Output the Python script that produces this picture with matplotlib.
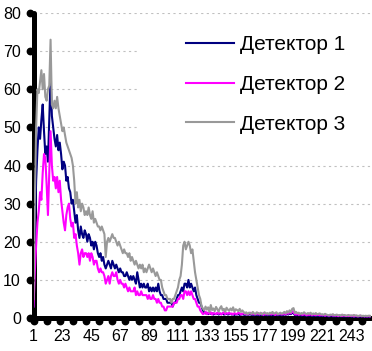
import matplotlib
matplotlib.use("Agg")
import matplotlib.pyplot as plt
from matplotlib.patches import Rectangle
from matplotlib.transforms import ScaledTranslation, blended_transform_factory

# channel readings of three detectors (channels 1..258)
det1_head = [
    3, 22, 36, 44, 50, 47, 52, 56, 49, 43,
    45, 41, 52, 63, 53, 50, 47, 45, 48, 44,
    46, 43, 39, 41, 40, 36, 37, 34, 33, 30,
    31, 28, 25, 27, 23, 21, 24, 22, 21, 23,
    22, 20, 22, 21, 19, 20, 18, 20, 19, 17,
    16, 17, 15, 16, 14, 13, 14, 15, 14, 13,
    15, 14, 13, 14, 13, 12, 13, 12, 12, 11,
    11, 12, 11, 10, 11, 10, 11, 10, 9, 12,
    10, 8, 9, 8, 9, 8, 8, 9, 7, 8,
    7, 8, 7, 8, 7, 9, 7, 6, 6, 5,
    5, 5, 4, 4, 4, 4, 3, 4, 4, 5,
    6, 6, 7, 8, 7, 9, 9, 8, 10, 8,
    9, 8, 7, 8, 6, 5, 4, 4, 3, 2,
]
det1_tail = [
    1.5, 1.2, 1.4, 1.0, 1.3, 1.1, 1.2, 0.9, 1.1, 1.0,
    1.2, 0.9, 1.1, 1.0, 1.2, 0.9, 1.0, 1.1, 0.9, 1.0,
    1.1, 0.9, 1.0, 0.8, 1.0, 0.9, 1.1, 0.8, 0.9, 1.0,
    0.9, 0.8, 1.0, 0.8, 0.9, 1.0, 0.8, 0.9, 0.7, 0.9,
    0.8, 0.9, 0.7, 0.8, 0.9, 0.7, 0.8, 0.9, 0.7, 0.8,
    0.9, 0.7, 0.8, 0.7, 0.8, 0.9, 0.7, 0.8, 0.9, 0.7,
    0.8, 1.0, 0.8, 1.1, 0.9, 1.2, 1.0, 1.4, 1.2, 0.8,
    0.7, 0.8, 0.7, 0.8, 0.6, 0.7, 0.8, 0.6, 0.7, 0.6,
    0.7, 0.6, 0.7, 0.5, 0.6, 0.7, 0.5, 0.6, 0.5, 0.6,
    0.5, 0.6, 0.5, 0.6, 0.5, 0.4, 0.5, 0.6, 0.4, 0.5,
    0.4, 0.5, 0.4, 0.5, 0.4, 0.5, 0.4, 0.4, 0.5, 0.4,
    0.4, 0.5, 0.3, 0.4, 0.4, 0.3, 0.4, 0.4, 0.3, 0.4,
    0.3, 0.4, 0.3, 0.4, 0.3, 0.4, 0.3, 0.4,
]

det2_head = [
    3, 12, 19, 25, 28, 33, 31, 38, 43, 42,
    35, 27, 38, 49, 40, 36, 37, 34, 37, 33,
    36, 31, 28, 25, 23, 27, 29, 30, 26, 24,
    25, 21, 22, 19, 17, 14, 17, 18, 16, 17,
    17, 16, 17, 15, 17, 16, 14, 15, 15, 13,
    12, 13, 12, 12, 11, 9, 10, 11, 9, 11,
    12, 11, 11, 12, 10, 9, 10, 9, 9, 8,
    9, 8, 7, 8, 7, 7, 7, 8, 6, 7,
    6, 6, 7, 6, 6, 6, 6, 5, 6, 5,
    5, 6, 5, 5, 4, 5, 4, 4, 3, 3,
    2, 2, 3, 3, 3, 3, 3, 4, 4, 4,
    5, 5, 6, 6, 5, 7, 7, 6, 7, 6,
    7, 6, 5, 5, 4, 3, 3, 2, 1.5, 1,
]
det2_tail = [
    1.2, 1.6, 1.0, 1.4, 1.1, 1.5, 0.9, 1.3, 1.2, 1.0,
    1.4, 1.1, 1.3, 0.9, 1.2, 1.5, 1.0, 1.3, 1.1, 1.4,
    1.0, 1.2, 0.9, 1.3, 1.1, 1.0, 1.4, 1.2, 0.9, 1.1,
    1.3, 1.0, 1.2, 0.9, 1.1, 1.4, 1.0, 1.2, 0.9, 1.1,
    1.0, 1.3, 0.9, 1.1, 1.2, 0.8, 1.0, 1.1, 0.9, 1.0,
    1.2, 0.9, 1.1, 1.0, 0.8, 1.1, 0.9, 1.0, 1.2, 0.9,
    1.0, 1.3, 0.9, 1.4, 1.1, 1.6, 1.2, 1.8, 1.5, 1.0,
    0.9, 1.1, 0.8, 1.0, 0.9, 0.8, 1.0, 0.9, 0.7, 0.9,
    0.8, 1.0, 0.7, 0.9, 0.8, 0.7, 0.9, 0.8, 0.7, 0.8,
    0.7, 0.8, 0.6, 0.8, 0.7, 0.6, 0.7, 0.8, 0.6, 0.7,
    0.6, 0.7, 0.5, 0.7, 0.6, 0.5, 0.7, 0.6, 0.5, 0.6,
    0.5, 0.6, 0.5, 0.6, 0.4, 0.6, 0.5, 0.4, 0.5, 0.6,
    0.4, 0.5, 0.4, 0.5, 0.4, 0.5, 0.4, 0.5,
]

det3_head = [
    5, 30, 50, 60, 59, 62, 65, 60, 64, 58,
    57, 60, 61, 73, 56, 55, 57, 55, 58, 55,
    53, 51, 49, 50, 48, 46, 45, 44, 43, 42,
    40, 36, 30, 33, 29, 31, 28, 30, 29, 27,
    28, 27, 29, 27, 26, 28, 25, 26, 25, 24,
    24, 23, 24, 23, 22, 16, 20, 21, 20, 21,
    22, 21, 21, 20, 19, 20, 19, 18, 17, 18,
    17, 17, 16, 17, 15, 16, 15, 14, 15, 14,
    13, 14, 13, 14, 12, 13, 12, 13, 14, 13,
    12, 13, 12, 11, 12, 11, 10, 10, 8, 7,
    6, 6, 5, 5, 5, 4, 5, 5, 6, 7,
    8, 10, 11, 14, 19, 20, 18, 19, 20, 19,
    17, 18, 15, 12, 10, 8, 6, 5, 3, 2.5,
]
det3_tail = [
    2.0, 3.0, 2.2, 2.8, 1.6, 3.4, 2.1, 2.5, 1.8, 2.9,
    2.3, 1.7, 2.6, 3.1, 2.0, 2.4, 1.6, 2.7, 2.2, 1.9,
    2.5, 2.0, 2.8, 1.7, 2.3, 2.1, 1.8, 2.4, 1.6, 2.0,
    1.6, 1.2, 1.5, 1.0, 1.4, 1.3, 1.1, 1.6, 1.2, 1.0,
    1.5, 1.3, 1.1, 1.4, 1.0, 1.2, 1.5, 1.1, 1.3, 1.0,
    1.4, 1.2, 1.6, 1.1, 1.3, 1.5, 1.0, 1.2, 1.4, 1.1,
    1.3, 1.6, 1.2, 1.8, 1.4, 2.0, 1.5, 2.4, 2.6, 1.3,
    1.6, 1.2, 1.4, 1.0, 1.3, 1.1, 1.5, 1.2, 1.0, 1.3,
    1.1, 1.4, 0.9, 1.2, 1.0, 1.3, 0.9, 1.1, 1.2, 0.9,
    1.0, 0.8, 1.1, 0.9, 0.8, 0.7, 0.9, 0.8, 1.0, 0.7,
    0.8, 0.9, 0.7, 0.8, 0.6, 0.9, 0.7, 0.8, 0.6, 0.7,
    0.8, 0.6, 0.7, 0.6, 0.8, 0.6, 0.7, 0.5, 0.6, 0.7,
    0.5, 0.6, 0.5, 0.6, 0.5, 0.6, 0.6, 0.5,
]

det1 = det1_head + det1_tail
det2 = det2_head + det2_tail
det3 = det3_head + det3_tail
channels = list(range(1, len(det1) + 1))

labels = ["Детектор 1", "Детектор 2", "Детектор 3"]
colors = ["#000080", "#ff00ff", "#999999"]

x_labels = list(range(1, 244, 22))
x_dots = list(range(1, 259, 10))
y_ticks = list(range(0, 81, 10))

plt.rcParams["font.family"] = ["Liberation Sans", "DejaVu Sans"]

fig = plt.figure(figsize=(3.72, 3.51), dpi=100)
ax = fig.add_axes([33.5 / 372, 1 - 318 / 351, 337.5 / 372, 305 / 351])

for series, name, col in zip([det1, det2, det3], labels, colors):
    ax.plot(channels, series, color=col, linewidth=1.5, label=name, zorder=3)

ax.set_xlim(1, 258)
ax.set_ylim(0, 80)

# dashed horizontal grid
for y in y_ticks[1:]:
    ax.axhline(y, color="#c0c0c0", linewidth=0.8, linestyle=(0, (2, 3)), zorder=0.5)

# white area behind the legend hides the grid there
ax.add_patch(Rectangle((0.311, 0.545), 0.7, 0.41, transform=ax.transAxes,
                       facecolor="white", edgecolor="none", zorder=1))

for side in ["top", "right"]:
    ax.spines[side].set_visible(False)
for side in ["left", "bottom"]:
    ax.spines[side].set_linewidth(3.6)
    ax.spines[side].set_capstyle("round")

ax.set_xticks(x_labels)
ax.set_yticks(y_ticks)
ax.tick_params(axis="x", length=0, pad=8, labelsize=11.5)
ax.tick_params(axis="y", length=0, pad=9, labelsize=11.5)

# round tick bumps along both axes
shift = 2.2 / 72
tr_x = blended_transform_factory(ax.transData, ax.transAxes) + \
    ScaledTranslation(0, -shift, fig.dpi_scale_trans)
tr_y = blended_transform_factory(ax.transAxes, ax.transData) + \
    ScaledTranslation(-shift, 0, fig.dpi_scale_trans)
ax.plot(x_dots, [0] * len(x_dots), "o", ms=4.6, color="black", transform=tr_x, clip_on=False, zorder=5)
ax.plot([0] * len(y_ticks), y_ticks, "o", ms=4.6, color="black", transform=tr_y, clip_on=False, zorder=5)

ax.legend(loc="upper left", bbox_to_anchor=(0.5, 0.90), bbox_transform=fig.transFigure,
          frameon=False, fontsize=15, handlelength=2.3, handletextpad=0.3,
          labelspacing=1.0, borderpad=0, borderaxespad=0)

fig.savefig("out.png", dpi=100)
